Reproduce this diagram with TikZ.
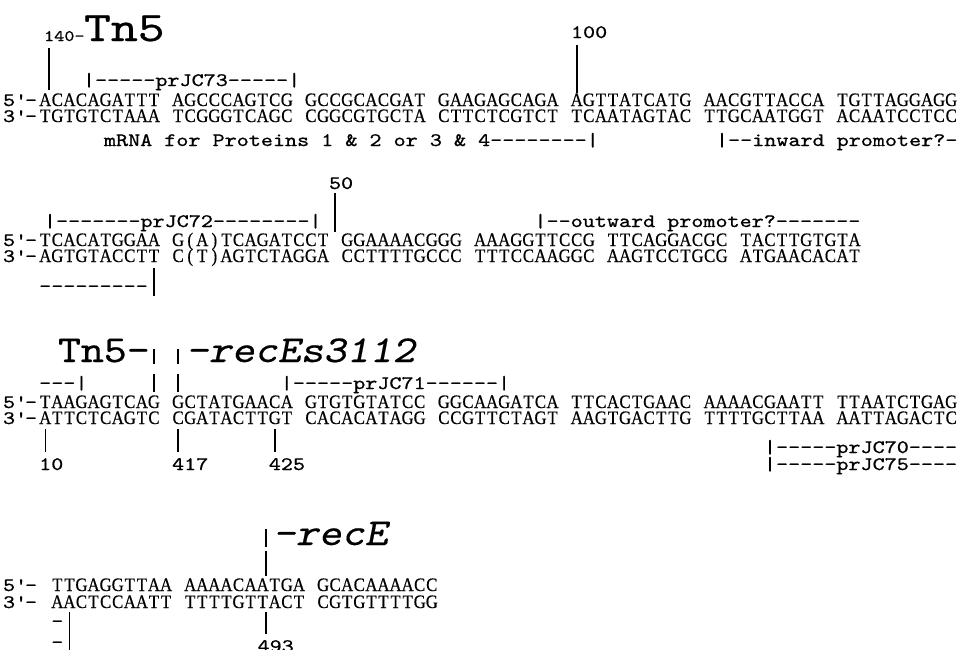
\documentclass[tikz,border=0pt]{standalone}
\usepackage{fontspec}
\setmainfont{Liberation Serif}
\newfontfamily\seqf{Liberation Serif}[FakeStretch=0.88,FakeBold=0.5]
\newfontfamily\annf{lmmono10-regular.otf}[FakeStretch=1.21,FakeBold=0.8]
\newfontfamily\topf{lmmono10-regular.otf}[FakeStretch=1.22,FakeBold=0.5]
\newfontfamily\bigf{lmmono10-regular.otf}[FakeStretch=1.15,FakeBold=0.5]
\newfontfamily\bigsl{lmmonoslant10-regular.otf}[FakeStretch=1.15,FakeBold=0.5]
\newdimen\cw \cw=12.08pt
\newcommand\annfont{\annf\fontsize{19}{22}\selectfont}
\def\cellseq#1{\cellseqloop#1\relax}
\def\cellseqloop#1{\ifx\relax#1\else\ifx.#1\hbox to\cw{}\else\hbox to\cw{\hss#1\hss}\fi\expandafter\cellseqloop\fi}
\newcommand\pre[2]{\hbox to #2\cw{\annfont #1\textquotesingle-\hss}}
\tikzset{
 seqrow/.style={anchor=base west, inner sep=0pt, outer sep=0pt, font=\seqf\fontsize{19}{20}\selectfont},
 ann/.style={anchor=base west, inner sep=0pt, outer sep=0pt, font=\annfont},
 bigt/.style={anchor=base west, inner sep=0pt, outer sep=0pt, font=\bigf\fontsize{38}{40}\selectfont},
 bigti/.style={anchor=base west, inner sep=0pt, outer sep=0pt, font=\bigsl\fontsize{38}{40}\selectfont},
 topt/.style={anchor=base west, inner sep=0pt, outer sep=0pt, font=\topf\fontsize{42}{44}\selectfont},
 smallt/.style={anchor=base west, inner sep=0pt, outer sep=0pt, font=\annf\fontsize{16}{18}\selectfont},
 bar/.style={line width=1.2pt}
}
\begin{document}
\begin{tikzpicture}[x=1pt,y=-1pt]
\useasboundingbox (0,0) rectangle (958,649);
\fill[white] (0,0) rectangle (958,649);
% ---------------- block 1
\node[smallt] (n140) at (44,41) {140-};
\node[topt] (tn5top) at (84,41) {Tn5};
\node[ann] (n100) at (571,38) {100};
\coordinate (b1a) at (49,48); \coordinate (b1b) at (49,90);
\draw[bar] (b1a) -- (b1b);
\coordinate (b2a) at (577,45); \coordinate (b2b) at (577,93);
\draw[bar] (b2a) -- (b2b);
\node[ann] (p73) at (83,86) {|-----prJC73-----|};
\node[seqrow] (s1t) at (3,106) {\pre{5}{3}\cellseq{ACACAGATTT.AGCCCAGTCG.GCCGCACGAT.GAAGAGCAGA.AGTTATCATG.AACGTTACCA.TGTTAGGAGG}};
\node[seqrow] (s1b) at (3,122) {\pre{3}{3}\cellseq{TGTGTCTAAA.TCGGGTCAGC.CGGCGTGCTA.CTTCTCGTCT.TCAATAGTAC.TTGCAATGGT.ACAATCCTCC}};
\node[ann] (mrna) at (104,146) {mRNA for Proteins 1 \& 2 or 3 \& 4--------|};
\node[ann] (inw) at (716,146) {|--inward promoter?-};
% ---------------- block 2
\node[ann] (n50) at (329,189) {50};
\coordinate (b3a) at (335,193); \coordinate (b3b) at (335,232);
\draw[bar] (b3a) -- (b3b);
\node[ann] (p72) at (44,227) {|-------prJC72--------|};
\node[ann] (outw) at (534.5,227) {|--outward promoter?-------};
\node[seqrow] (s2t) at (3,246) {\pre{5}{3}\cellseq{TCACATGGAA.G(A)TCAGATCCT.GGAAAACGGG.AAAGGTTCCG.TTCAGGACGC.TACTTGTGTA}};
\node[seqrow] (s2b) at (3,262) {\pre{3}{3}\cellseq{AGTGTACCTT.C(T)AGTCTAGGA.CCTTTTGCCC.TTTCCAAGGC.AAGTCCTGCG.ATGAACACAT}};
\node[ann] (dash2) at (39.2,292) {---------};
\coordinate (b4a) at (154,268); \coordinate (b4b) at (154,296);
\draw[bar] (b4a) -- (b4b);
% ---------------- block 3
\node[bigt] (tn5b) at (58,362) {Tn5-};
\coordinate (b5a) at (154,349); \coordinate (b5b) at (154,364);
\coordinate (b6a) at (178,349); \coordinate (b6b) at (178,364);
\draw[bar] (b5a) -- (b5b); \draw[bar] (b6a) -- (b6b);
\node[bigti] (res) at (186,362) {-recEs3112};
\node[ann] (dash3) at (39.2,389) {---|};
\coordinate (b7a) at (154,374); \coordinate (b7b) at (154,392);
\coordinate (b8a) at (178,374); \coordinate (b8b) at (178,392);
\draw[bar] (b7a) -- (b7b); \draw[bar] (b8a) -- (b8b);
\node[ann] (p71) at (280.8,389) {|-----prJC71------|};
\node[seqrow] (s3t) at (3,408) {\pre{5}{3}\cellseq{TAAGAGTCAG.GCTATGAACA.GTGTGTATCC.GGCAAGATCA.TTCACTGAAC.AAAACGAATT.TTAATCTGAG}};
\node[seqrow] (s3b) at (3,424) {\pre{3}{3}\cellseq{ATTCTCAGTC.CGATACTTGT.CACACATAGG.CCGTTCTAGT.AAGTGACTTG.TTTTGCTTAA.AATTAGACTC}};
\coordinate (b9a) at (45.3,429); \coordinate (b9b) at (45.3,452);
\coordinate (b10a) at (178,429); \coordinate (b10b) at (178,452);
\coordinate (b11a) at (275,429); \coordinate (b11b) at (275,452);
\draw[bar] (b9a) -- (b9b); \draw[bar] (b10a) -- (b10b); \draw[bar] (b11a) -- (b11b);
\node[ann] (n10) at (39.2,470) {10};
\node[ann] (n417) at (172.1,470) {417};
\node[ann] (n425) at (268.8,470) {425};
\node[ann] (p70) at (764,453) {|-----prJC70----};
\node[ann] (p75) at (764,470) {|-----prJC75----};
% ---------------- block 4
\coordinate (b12a) at (266,529); \coordinate (b12b) at (266,547);
\draw[bar] (b12a) -- (b12b);
\node[bigti] (rece) at (273,545) {-recE};
\coordinate (b13a) at (266,551); \coordinate (b13b) at (266,576);
\draw[bar] (b13a) -- (b13b);
\node[seqrow] (s4t) at (3,591) {\pre{5}{4}\cellseq{TTGAGGTTAA.AAAACAATGA.GCACAAAACC}};
\node[seqrow] (s4b) at (3,608) {\pre{3}{4}\cellseq{AACTCCAATT.TTTTGTTACT.CGTGTTTTGG}};
\node[ann] (d4a) at (51.3,627) {-};
\node[ann] (d4b) at (51.3,648) {-};
\coordinate (b14a) at (69.5,612); \coordinate (b14b) at (69.5,652);
\draw[bar] (b14a) -- (b14b);
\coordinate (b15a) at (266,612); \coordinate (b15b) at (266,634);
\draw[bar] (b15a) -- (b15b);
\node[ann] (n493) at (257.6,652) {493};
\end{tikzpicture}
\end{document}
